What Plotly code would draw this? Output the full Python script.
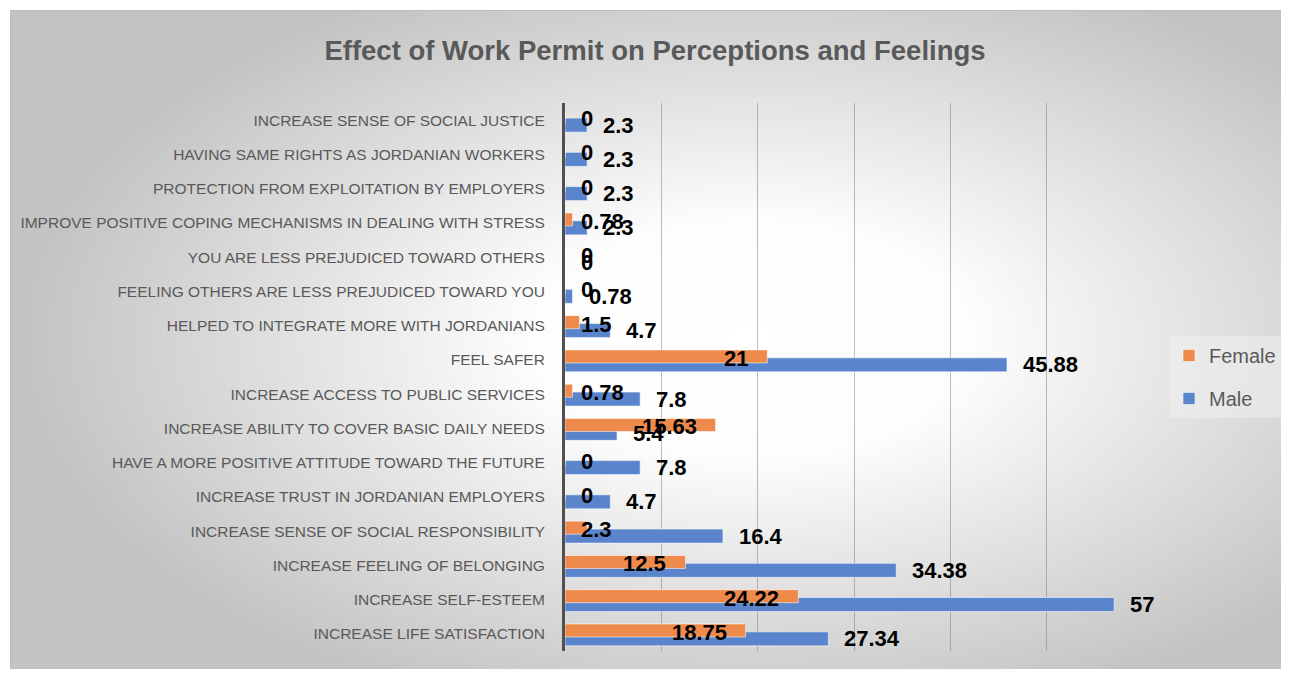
import base64

import plotly.graph_objects as go

# categories listed bottom to top, as in the original bar chart
categories = [
    "INCREASE LIFE SATISFACTION",
    "INCREASE SELF-ESTEEM",
    "INCREASE FEELING OF BELONGING",
    "INCREASE SENSE OF SOCIAL RESPONSIBILITY",
    "INCREASE TRUST IN JORDANIAN EMPLOYERS",
    "HAVE A MORE POSITIVE ATTITUDE TOWARD THE FUTURE",
    "INCREASE ABILITY TO COVER BASIC DAILY NEEDS",
    "INCREASE ACCESS TO PUBLIC SERVICES",
    "FEEL SAFER",
    "HELPED TO INTEGRATE MORE WITH JORDANIANS",
    "FEELING OTHERS ARE LESS PREJUDICED TOWARD YOU",
    "YOU ARE LESS PREJUDICED TOWARD OTHERS",
    "IMPROVE POSITIVE COPING MECHANISMS IN DEALING WITH STRESS",
    "PROTECTION FROM EXPLOITATION BY EMPLOYERS",
    "HAVING SAME RIGHTS AS JORDANIAN WORKERS",
    "INCREASE SENSE OF SOCIAL JUSTICE",
]
female = [18.75, 24.22, 12.5, 2.3, 0, 0, 15.63, 0.78, 21, 1.5, 0, 0, 0.78, 0, 0, 0]
male = [27.34, 57, 34.38, 16.4, 4.7, 7.8, 5.4, 7.8, 45.88, 4.7, 0.78, 0, 2.3, 2.3, 2.3, 2.3]

# the page body has an 8px margin; keep the figure inside the visible window
OFF = 8
W, H = 1289 - 2 * OFF, 677 - 2 * OFF
L, T = 565 - OFF, 103 - OFF
R = W + OFF - 1144
B = H + OFF - 651
PW, PH = W - L - R, H - T - B

FONT = "Liberation Sans, Arial, sans-serif"
GREY = "#595959"
ORANGE = "#ED8A4C"
BLUE = "#5A85CC"

F_OFF, F_W = -0.09, 0.38
M_OFF, M_W = -0.35, 0.41

fig = go.Figure()
fig.add_trace(go.Bar(
    y=categories, x=male, orientation="h", name="Male",
    offset=M_OFF, width=M_W, legendrank=2, legendgroup="m",
    marker=dict(color=BLUE, line=dict(color="rgba(255,255,255,0.55)", width=1)),
    hoverinfo="x+name",
))
fig.add_trace(go.Bar(
    y=categories, x=female, orientation="h", name="Female",
    offset=F_OFF, width=F_W, legendrank=1, legendgroup="f",
    marker=dict(color=ORANGE, line=dict(color="rgba(255,255,255,0.55)", width=1)),
    hoverinfo="x+name",
))

label_font = dict(family=FONT, size=22, color="black")
annotations = []
for i, (f, m) in enumerate(zip(female, male)):
    if f < 3:
        annotations.append(dict(x=0, y=i + F_OFF + F_W / 2, text=f"<b>{f:g}</b>", xanchor="left",
                                xshift=14, yshift=-2, showarrow=False, font=label_font))
    else:
        annotations.append(dict(x=f, y=i + F_OFF + F_W / 2, text=f"<b>{f:g}</b>", xanchor="right",
                                xshift=-17, yshift=-2, showarrow=False, font=label_font))
    annotations.append(dict(x=m, y=i + M_OFF + M_W / 2, text=f"<b>{m:g}</b>", xanchor="left",
                            xshift=14, showarrow=False, font=label_font))

# radial grey background of the chart area
svg = (
    '<svg xmlns="http://www.w3.org/2000/svg" width="1279" height="667" viewBox="0 0 1279 667">'
    '<defs><radialGradient id="g" cx="0.57" cy="0.47" r="0.56">'
    '<stop offset="0" stop-color="#ffffff"/><stop offset="0.3" stop-color="#fdfdfd"/>'
    '<stop offset="1" stop-color="#c3c3c3"/></radialGradient></defs>'
    '<rect x="0.5" y="0.5" width="1300" height="700" fill="url(#g)" stroke="#bdbdbd" stroke-width="1"/>'
    '</svg>'
)
bg = "data:image/svg+xml;base64," + base64.b64encode(svg.encode()).decode()

fig.update_layout(
    width=W, height=H,
    margin=dict(l=L, r=R, t=T, b=B, autoexpand=False),
    paper_bgcolor="white",
    plot_bgcolor="rgba(0,0,0,0)",
    barmode="overlay",
    font=dict(family=FONT, color=GREY),
    title=dict(text="<b>Effect of Work Permit on Perceptions and Feelings</b>",
               x=(655 - OFF) / W, xref="container", xanchor="center",
               y=1 - (50 - OFF) / H, yref="container", yanchor="middle",
               font=dict(size=27.5, color=GREY, family=FONT)),
    xaxis=dict(range=[0, 60.1], tick0=0, dtick=10, showticklabels=False, showgrid=True,
               gridcolor="rgba(110,110,110,0.45)", gridwidth=1, zeroline=False, fixedrange=True),
    yaxis=dict(type="category", range=[-0.5, 15.5], showline=True, linecolor="#505050", linewidth=3,
               ticks="", ticklabelstandoff=14, automargin=False,
               tickfont=dict(size=15.5, color=GREY, family=FONT),
               showgrid=False, fixedrange=True),
    legend=dict(x=(1169 - 565) / PW, xanchor="left", y=1 - (336 - 103) / PH, yanchor="top",
                bgcolor="rgba(238,238,238,0.6)", font=dict(size=20, color=GREY, family=FONT),
                traceorder="grouped", tracegroupgap=14),
    annotations=annotations,
    images=[dict(source=bg, xref="paper", yref="paper",
                 x=(10 - 565) / PW, y=1 + (103 - 10) / PH, sizex=1279 / PW, sizey=667 / PH,
                 xanchor="left", yanchor="top", sizing="stretch", layer="below")],
)

fig.write_html("out.html")
